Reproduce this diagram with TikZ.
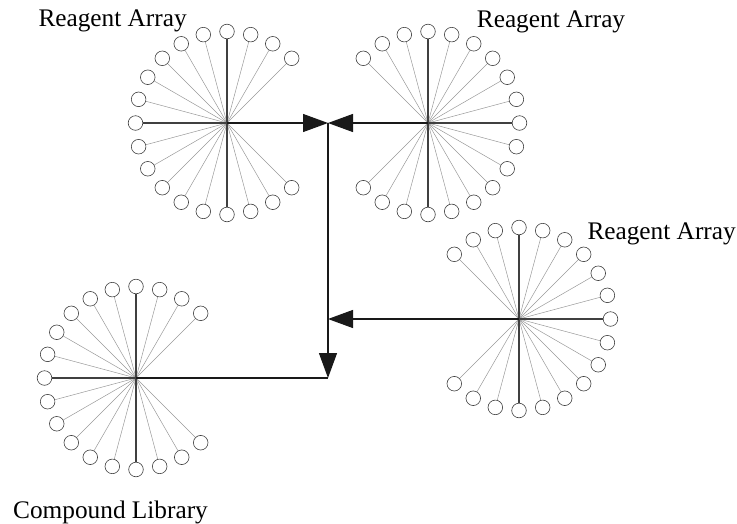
\documentclass[tikz,border=0pt]{standalone}
\usepackage{fontspec}
\setmainfont{Liberation Serif}
\usetikzlibrary{arrows.meta}
\begin{document}
\begin{tikzpicture}[x=1pt,y=-1pt,
  bead/.style={circle,draw=black!75,line width=0.6pt,fill=white,minimum size=14.6pt,inner sep=0pt},
  spoke/.style={draw=black!40,line width=0.5pt},
  axisline/.style={draw=black!75,line width=1.1pt},
  conn/.style={draw=black!90,line width=1.2pt},
  head/.style={-{Triangle[length=25pt,width=18pt]}},
  lab/.style={anchor=base west,inner sep=0pt,font=\fontsize{25.3}{30}\selectfont}]
\useasboundingbox (0,0) rectangle (737,523);
% stars: number / centre x / centre y / first angle
\foreach \n/\cx/\cy/\st in {1/227/123/45, 2/428/123/-135, 3/519/319/-135, 4/136/378/45}{
  \coordinate (s\n) at (\cx,\cy);
  \foreach \k [evaluate=\k as \a using {\st+15*\k}] in {0,...,18}{
    \node[bead] (b\n-\k) at ([shift={({91.5*cos(\a)},{-91.5*sin(\a)})}]s\n) {};
    \draw[spoke] (s\n) -- (b\n-\k);
  }
  \foreach \k in {3,9,15}{
    \draw[axisline] (s\n) -- (b\n-\k);
  }
}
\coordinate (j1) at (328,123);
\coordinate (j2) at (328,319);
\coordinate (j3) at (328,378);
\draw[conn,head] (s1) -- (j1);
\draw[conn,head] (s2) -- (j1);
\draw[conn,head] (s3) -- (j2);
\draw[conn,head] (j1) -- (j3);
\draw[conn] (s4) -- (j3);
\node[lab] (l1) at (38.3,26.7) {Reagent Array};
\node[lab] (l2) at (476.7,27) {Reagent Array};
\node[lab] (l3) at (587.3,239.5) {Reagent Array};
\node[lab] (l4) at (13,518) {Compound Library};
\end{tikzpicture}
\end{document}
